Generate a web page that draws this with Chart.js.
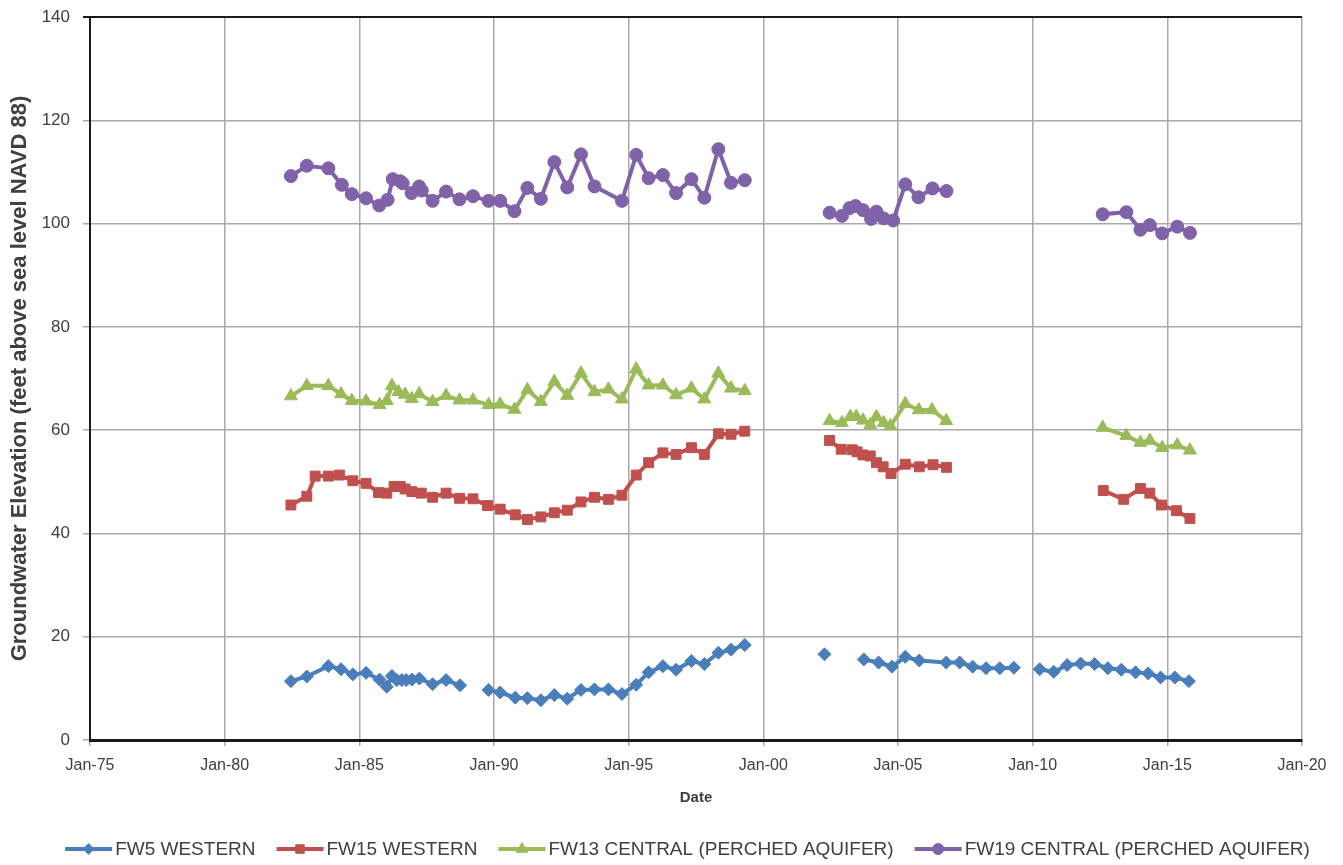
<!DOCTYPE html>
<html>
<head>
<meta charset="utf-8">
<script src="https://cdn.jsdelivr.net/npm/chart.js@4.4.1/dist/chart.umd.min.js"></script>
<style>
    html, body { margin: 0; padding: 0; background: #ffffff; }
    #wrap { width: 1343px; height: 865px; }
</style>
</head>
<body>
<div id="wrap"><canvas id="chart" width="1343" height="865"></canvas></div>
<script>
// ============================================
// DATA (decimal years, feet NAVD 88; null = gap in record)
// ============================================
const seriesNames = ['FW5 WESTERN', 'FW15 WESTERN', 'FW13 CENTRAL (PERCHED AQUIFER)', 'FW19 CENTRAL (PERCHED AQUIFER)'];

const fw5Dates = [1982.46, 1983.05, 1983.85, 1984.32, 1984.76, 1985.25, 1985.75, 1986.02, 1986.21, 1986.39, 1986.58, 1986.74, 1986.95, 1987.23, 1987.72, 1988.22, 1988.74, null,
    1989.80, 1990.23, 1990.79, 1991.24, 1991.74, 1992.24, 1992.72, 1993.23, 1993.73, 1994.25, 1994.75, 1995.28, 1995.74, 1996.27, 1996.76, 1997.33, 1997.81, 1998.33, 1998.80, 1999.31, null,
    2002.27, null,
    2003.73, 2004.28, 2004.78, 2005.27, 2005.79, 2006.79, 2007.29, 2007.77, 2008.27, 2008.78, 2009.30, null,
    2010.26, 2010.78, 2011.28, 2011.78, 2012.30, 2012.79, 2013.29, 2013.82, 2014.29, 2014.75, 2015.28, 2015.80];
const fw5Values = [11.4, 12.3, 14.3, 13.7, 12.7, 13.0, 11.7, 10.3, 12.4, 11.6, 11.6, 11.6, 11.7, 11.9, 10.8, 11.6, 10.6, null,
    9.7, 9.2, 8.2, 8.1, 7.7, 8.7, 8.0, 9.7, 9.8, 9.8, 8.9, 10.7, 13.1, 14.3, 13.6, 15.3, 14.7, 16.9, 17.5, 18.4, null,
    16.6, null,
    15.6, 15.0, 14.2, 16.1, 15.4, 15.0, 15.0, 14.2, 13.9, 13.9, 14.0, null,
    13.7, 13.2, 14.5, 14.8, 14.7, 13.9, 13.6, 13.1, 12.9, 12.1, 12.1, 11.4];

const fw15Dates = [1982.46, 1983.05, 1983.36, 1983.85, 1984.26, 1984.76, 1985.25, 1985.71, 1986.02, 1986.29, 1986.52, 1986.70, 1986.95, 1987.30, 1987.72, 1988.22, 1988.72, 1989.22, 1989.76,
    1990.23, 1990.79, 1991.24, 1991.74, 1992.24, 1992.72, 1993.23, 1993.73, 1994.25, 1994.75, 1995.28, 1995.74, 1996.27, 1996.76, 1997.33, 1997.81, 1998.33, 1998.80, 1999.31, null,
    2002.46, 2002.89, 2003.30, 2003.48, 2003.70, 2003.97, 2004.20, 2004.45, 2004.74, 2005.27, 2005.79, 2006.30, 2006.80, null,
    2012.62, 2013.38, 2014.00, 2014.35, 2014.78, 2015.34, 2015.84];
const fw15Values = [45.5, 47.2, 51.1, 51.1, 51.3, 50.2, 49.7, 47.9, 47.8, 49.1, 49.1, 48.6, 48.1, 47.8, 47.0, 47.8, 46.8, 46.7, 45.4,
    44.7, 43.6, 42.7, 43.2, 44.0, 44.5, 46.1, 47.0, 46.6, 47.4, 51.3, 53.7, 55.6, 55.3, 56.6, 55.3, 59.3, 59.2, 59.8, null,
    58.0, 56.3, 56.2, 55.8, 55.2, 55.0, 53.7, 52.9, 51.6, 53.4, 52.9, 53.3, 52.8, null,
    48.3, 46.6, 48.7, 47.8, 45.5, 44.4, 42.9];

const fw13Dates = [1982.46, 1983.05, 1983.85, 1984.32, 1984.72, 1985.25, 1985.75, 1986.02, 1986.21, 1986.45, 1986.70, 1986.94, 1987.22, 1987.72, 1988.22, 1988.72, 1989.22, 1989.80,
    1990.23, 1990.76, 1991.24, 1991.74, 1992.24, 1992.72, 1993.23, 1993.73, 1994.25, 1994.75, 1995.28, 1995.74, 1996.27, 1996.76, 1997.33, 1997.81, 1998.33, 1998.80, 1999.31, null,
    2002.46, 2002.92, 2003.23, 2003.45, 2003.70, 2003.97, 2004.20, 2004.47, 2004.72, 2005.27, 2005.77, 2006.26, 2006.79, null,
    2012.60, 2013.48, 2014.00, 2014.35, 2014.81, 2015.37, 2015.84];
const fw13Values = [66.6, 68.6, 68.6, 67.0, 65.7, 65.6, 64.9, 65.7, 68.6, 67.4, 66.9, 66.1, 67.0, 65.5, 66.7, 65.8, 65.8, 64.9,
    65.0, 64.0, 67.8, 65.5, 69.4, 66.7, 71.0, 67.4, 67.9, 66.0, 71.8, 68.7, 68.7, 66.8, 68.1, 66.0, 71.0, 68.1, 67.6, null,
    61.8, 61.4, 62.6, 62.6, 61.9, 61.0, 62.6, 61.4, 60.8, 65.1, 63.9, 63.9, 61.8, null,
    60.5, 58.9, 57.6, 58.0, 56.6, 57.1, 56.1];

const fw19Dates = [1982.46, 1983.05, 1983.85, 1984.35, 1984.72, 1985.25, 1985.74, 1986.05, 1986.24, 1986.52, 1986.61, 1986.94, 1987.22, 1987.32, 1987.72, 1988.22, 1988.72, 1989.22, 1989.80,
    1990.23, 1990.76, 1991.24, 1991.74, 1992.24, 1992.72, 1993.23, 1993.73, 1994.75, 1995.28, 1995.74, 1996.27, 1996.76, 1997.33, 1997.81, 1998.33, 1998.80, 1999.31, null,
    2002.46, 2002.92, 2003.20, 2003.42, 2003.70, 2004.00, 2004.20, 2004.47, 2004.82, 2005.27, 2005.76, 2006.28, 2006.80, null,
    2012.60, 2013.48, 2014.00, 2014.35, 2014.81, 2015.37, 2015.84];
const fw19Values = [109.2, 111.2, 110.7, 107.5, 105.7, 104.9, 103.5, 104.6, 108.6, 108.2, 107.8, 105.9, 107.2, 106.4, 104.4, 106.2, 104.7, 105.3, 104.4,
    104.4, 102.4, 106.9, 104.8, 111.9, 107.0, 113.4, 107.2, 104.4, 113.3, 108.8, 109.4, 105.9, 108.6, 105.0, 114.4, 107.9, 108.4, null,
    102.1, 101.5, 103.0, 103.4, 102.6, 100.9, 102.3, 101.0, 100.6, 107.6, 105.1, 106.8, 106.3, null,
    101.8, 102.2, 98.8, 99.7, 98.1, 99.4, 98.2];

// x axis runs Jan-75 .. Jan-20, one tick every 5 years
const xMin = 1975;
const xMax = 2020;
const xStep = 5;
const yMin = 0;
const yMax = 140;
const yStep = 20;

// ============================================
// HELPERS
// ============================================
// pair dates with values; a null marks a break in the line
function toPoints(dates, values) {
    return values.map((v, i) => ({ x: dates[i] !== null ? dates[i] : dates[i - 1], y: v }));
}

const FONT = "'Liberation Sans', Arial, sans-serif";
const TEXT = '#404040';
const GRID = '#a9a9a9';

const styles = [
    { color: '#4a7ebb', point: 'rectRot', radius: 6.5 },
    { color: '#c0504d', point: 'rect', radius: 7 },
    { color: '#9bbb59', point: 'triangle', radius: 7.5 },
    { color: '#7f62a8', point: 'circle', radius: 6.5 }
];
const dateArrays = [fw5Dates, fw15Dates, fw13Dates, fw19Dates];
const valueArrays = [fw5Values, fw15Values, fw13Values, fw19Values];

const datasets = seriesNames.map((name, i) => ({
    label: name,
    data: toPoints(dateArrays[i], valueArrays[i]),
    borderColor: styles[i].color,
    backgroundColor: styles[i].color,
    pointBackgroundColor: styles[i].color,
    pointBorderColor: styles[i].color,
    pointStyle: styles[i].point,
    pointRadius: styles[i].radius,
    pointBorderWidth: 1,
    borderWidth: 4,
    tension: 0,
    spanGaps: false
}));

// ============================================
// LEGEND (line + marker, like the spreadsheet legend)
// ============================================
const lineLegend = {
    id: 'lineLegend',
    afterDraw(chart) {
        const ctx = chart.ctx;
        const y = 849;
        const lineLen = 47;
        const gap = 3;
        const spacing = 21;
        ctx.save();
        ctx.font = '19px ' + FONT;
        const widths = seriesNames.map(n => ctx.measureText(n).width);
        const total = widths.reduce((a, w) => a + lineLen + gap + w, 0) + spacing * (seriesNames.length - 1);
        let x = (chart.width - total) / 2 + 16;
        seriesNames.forEach((name, i) => {
            const st = styles[i];
            ctx.strokeStyle = st.color;
            ctx.lineWidth = 4;
            ctx.beginPath();
            ctx.moveTo(x, y);
            ctx.lineTo(x + lineLen, y);
            ctx.stroke();
            ctx.fillStyle = st.color;
            ctx.strokeStyle = st.color;
            ctx.lineWidth = 1;
            Chart.helpers.drawPoint(ctx, { pointStyle: st.point, radius: st.radius - 1, rotation: 0, borderWidth: 1 }, x + lineLen / 2, y);
            ctx.fillStyle = TEXT;
            ctx.textAlign = 'left';
            ctx.textBaseline = 'middle';
            ctx.fillText(name, x + lineLen + gap, y + 1);
            x += lineLen + gap + widths[i] + spacing;
        });
        ctx.restore();
    }
};

// ============================================
// CHART
// ============================================
const ctx = document.getElementById('chart').getContext('2d');
new Chart(ctx, {
    type: 'line',
    data: { datasets: datasets },
    plugins: [lineLegend],
    options: {
        responsive: false,
        animation: false,
        layout: { padding: { top: 17, right: 41, left: 0, bottom: 0 } },
        plugins: {
            legend: { display: false },
            tooltip: { enabled: false }
        },
        scales: {
            x: {
                type: 'linear',
                min: xMin,
                max: xMax,
                afterFit: (s) => { s.height = 125; },
                ticks: {
                    stepSize: xStep,
                    color: TEXT,
                    padding: 10,
                    maxRotation: 0,
                    font: { family: FONT, size: 16 },
                    callback: (v) => 'Jan-' + String(v % 100).padStart(2, '0')
                },
                grid: {
                    color: GRID,
                    lineWidth: 1.5,
                    tickLength: 6
                },
                border: { color: '#1a1a1a', width: 3 },
                title: {
                    display: true,
                    text: 'Date',
                    color: TEXT,
                    font: { family: FONT, size: 15, weight: 'bold' },
                    padding: { bottom: 58 }
                }
            },
            y: {
                min: yMin,
                max: yMax,
                afterFit: (s) => { s.width = 90; s.paddingTop = 0; s.paddingBottom = 0; },
                ticks: {
                    stepSize: yStep,
                    color: TEXT,
                    padding: 13,
                    font: { family: FONT, size: 17 }
                },
                grid: {
                    color: (c) => c.tick && c.tick.value === yMax ? '#1a1a1a' : GRID,
                    lineWidth: (c) => c.tick && c.tick.value === yMax ? 2 : 1.5,
                    tickLength: 7
                },
                border: { color: '#1a1a1a', width: 2 },
                title: {
                    display: true,
                    text: 'Groundwater Elevation (feet above sea level NAVD 88)',
                    color: TEXT,
                    font: { family: FONT, size: 22, weight: 'bold' },
                    padding: { top: 7 }
                }
            }
        }
    }
});
</script>
</body>
</html>
